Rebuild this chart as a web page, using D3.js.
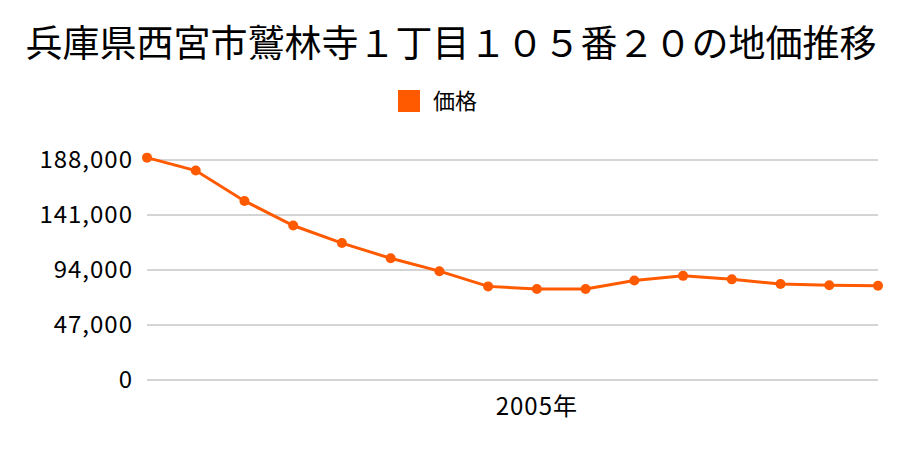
<!DOCTYPE html>
<html><head><meta charset="utf-8">
<script src="https://cdn.jsdelivr.net/npm/d3@7"></script>
<style>body{margin:0;background:#fff;} text{font-family:"Noto Sans CJK JP","Noto Sans",sans-serif;}</style>
</head><body>
<svg id="c" width="900" height="450"></svg>
<script>
const title = "兵庫県西宮市鷲林寺１丁目１０５番２０の地価推移";
const seriesName = "価格";
const years = [1997,1998,1999,2000,2001,2002,2003,2004,2005,2006,2007,2008,2009,2010,2011,2012];
const values = [190000,179000,153000,132000,117000,104000,93000,80000,77800,77800,85000,89000,86000,82000,81000,80500];
const yTicks = [0,47000,94000,141000,188000];
const xLabels = [{year:2005, label:"2005年"}];
const color = "#ff5a00";

const svg = d3.select("#c");
const x = d3.scalePoint().domain(years).range([147, 878]);
const y = d3.scaleLinear().domain([0,188000]).range([380,160]);

svg.append("text").attr("x",451).attr("y",57).attr("text-anchor","middle")
  .attr("font-size",37).attr("fill","#000").text(title);

svg.append("rect").attr("x",398).attr("y",90).attr("width",22).attr("height",22).attr("fill",color);
svg.append("text").attr("x",433).attr("y",109).attr("font-size",22).attr("fill","#000").text(seriesName);

const ya = svg.append("g").attr("transform","translate(147,0)")
  .call(d3.axisLeft(y).tickValues(yTicks).tickSize(0).tickPadding(14).tickFormat(d3.format(",")));
ya.select(".domain").remove();
ya.selectAll("text").attr("font-size",24).attr("fill","#000").attr("letter-spacing","1px")
  .style("font-family",'"Noto Sans CJK JP","Noto Sans",sans-serif');

svg.append("g").selectAll("line").data(yTicks).join("line")
  .attr("x1",147).attr("x2",878).attr("y1",d=>y(d)).attr("y2",d=>y(d))
  .attr("stroke","#aaa").attr("stroke-width",1);

svg.append("g").selectAll("text").data(xLabels).join("text")
  .attr("x",d=>x(d.year)).attr("y",415).attr("text-anchor","middle")
  .attr("font-size",24).attr("letter-spacing","1px").attr("fill","#000").text(d=>d.label);

const data = years.map((yr,i)=>({yr, v:values[i]}));
svg.append("path").datum(data)
  .attr("d", d3.line().x(d=>x(d.yr)).y(d=>y(d.v)))
  .attr("fill","none").attr("stroke",color).attr("stroke-width",3);
svg.append("g").selectAll("circle").data(data).join("circle")
  .attr("cx",d=>x(d.yr)).attr("cy",d=>y(d.v)).attr("r",5).attr("fill",color);
</script>
</body></html>
